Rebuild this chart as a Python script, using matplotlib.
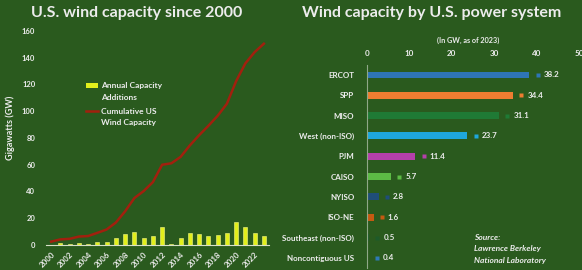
import matplotlib
matplotlib.use("Agg")
import matplotlib.pyplot as plt
from matplotlib.patches import Rectangle
from matplotlib.lines import Line2D

years = list(range(2000, 2024))
annual_additions = [0.1, 1.7, 0.4, 1.7, 0.4, 2.4, 2.5, 5.2, 8.4, 10.0, 5.2, 6.8, 13.1, 1.1,
                    4.9, 8.6, 8.2, 7.0, 7.6, 9.1, 16.9, 13.4, 8.6, 6.5]
cumulative = [2.5, 4.2, 4.6, 6.3, 6.7, 9.1, 11.6, 16.8, 25.2, 35.1, 40.3, 47.0, 60.0, 61.1,
              65.9, 74.5, 82.1, 89.1, 96.6, 105.6, 122.5, 135.8, 144.2, 150.5]
xtick_years = list(range(2000, 2023, 2))

systems = ["ERCOT", "SPP", "MISO", "West (non-ISO)", "PJM", "CAISO", "NYISO", "ISO-NE",
           "Southeast (non-ISO)", "Noncontiguous US"]
system_gw = [38.2, 34.4, 31.1, 23.7, 11.4, 5.7, 2.8, 1.6, 0.5, 0.4]
system_colors = ["#2e75b6", "#ed7d31", "#1f7a35", "#1ea7dc", "#b440aa", "#5cbb45",
                 "#1f4e79", "#c55a11", "#1e5a2a", "#2e7ab6"]

BG = "#2a5a1e"
TXT = "#ececec"
FONT = ["Lato", "DejaVu Sans"]
plt.rcParams['font.family'] = FONT

fig = plt.figure(figsize=(5.82, 2.70), dpi=100)
fig.patch.set_facecolor(BG)

# ---------- Left chart ----------
W, H = 582, 270
axL = fig.add_axes([46.5 / W, 25 / H, (268.5 - 46.5) / W, 214 / H])
axL.set_facecolor(BG)
x = list(range(len(years)))
axL.bar(x, annual_additions, width=0.42, color="#e2ef1c", edgecolor="#f4f98a", linewidth=0.4, zorder=2)
axL.plot(x, cumulative, color="#a2200e", lw=1.8, zorder=3)
axL.set_xlim(-0.5, len(years) - 0.5)
axL.set_ylim(0, 160)
axL.set_yticks(range(0, 161, 20))
axL.set_yticklabels([str(v) for v in range(0, 161, 20)], fontsize=5.5, color=TXT, fontweight="bold")
axL.set_xticks([years.index(y) for y in xtick_years])
axL.set_xticklabels([str(y) for y in xtick_years], rotation=45, ha="right", va="top",
                    rotation_mode="anchor", fontsize=5.7, color=TXT, fontweight="bold")
axL.tick_params(axis="both", length=0, pad=8)
axL.tick_params(axis="x", pad=4)
for s in ["top", "right", "left"]:
    axL.spines[s].set_visible(False)
axL.spines["bottom"].set_color("#d8e0c8")
axL.spines["bottom"].set_linewidth(0.8)
fig.text(10 / W, 1 - 128 / H, "Gigawatts (GW)", rotation=90, ha="center", va="center",
         fontsize=6.5, color=TXT, fontweight="bold")

# legend
fig.patches.append(Rectangle((86 / W, 1 - 88 / H), 12 / W, 5 / H, transform=fig.transFigure,
                             facecolor="#e2ef1c", edgecolor="none"))
fig.text(101 / W, 1 - 85.5 / H, "Annual Capacity", fontsize=6, color=TXT, fontweight="bold", va="center")
fig.text(101 / W, 1 - 97 / H, "Additions", fontsize=6, color=TXT, fontweight="bold", va="center")
fig.add_artist(Line2D([86 / W, 98 / W], [1 - 111 / H, 1 - 111 / H], transform=fig.transFigure,
                      color="#a2200e", lw=1.8))
fig.text(101 / W, 1 - 111 / H, "Cumulative US", fontsize=6, color=TXT, fontweight="bold", va="center")
fig.text(101 / W, 1 - 123 / H, "Wind Capacity", fontsize=6, color=TXT, fontweight="bold", va="center")

fig.text(137 / W, 1 - 13 / H, "U.S. wind capacity since 2000", ha="center", va="center",
         fontsize=11.5, color=TXT, fontweight="bold")

# ---------- Right chart ----------
axR = fig.add_axes([366.7 / W, 1.9 / H, 212.5 / W, 203.3 / H])
axR.set_facecolor(BG)
yy = list(range(len(systems)))
axR.barh(yy, system_gw, height=0.34, color=system_colors, zorder=2)
for i, (v, c) in enumerate(zip(system_gw, system_colors)):
    axR.plot(v + 2.0, i, marker="s", ms=3.2, color=c, mec="none", zorder=3)
    axR.text(v + 3.4, i, f"{v}", va="center", ha="left", fontsize=5.8, color=TXT, fontweight="bold")
axR.set_xlim(0, 50)
axR.set_ylim(len(systems) - 0.5, -0.5)
axR.xaxis.tick_top()
axR.set_xticks(range(0, 51, 10))
axR.set_xticklabels([str(v) for v in range(0, 51, 10)], fontsize=5.8, color=TXT, fontweight="bold")
axR.set_yticks(yy)
axR.set_yticklabels(systems, fontsize=5.8, color=TXT, fontweight="bold")
axR.tick_params(axis="both", length=0)
axR.tick_params(axis="y", pad=9)
axR.tick_params(axis="x", pad=5.5)
for s in ["top", "right", "bottom"]:
    axR.spines[s].set_visible(False)
axR.spines["left"].set_color("#8fa888")
axR.spines["left"].set_linewidth(0.8)

fig.text(432 / W, 1 - 13 / H, "Wind capacity by U.S. power system", ha="center", va="center",
         fontsize=11.5, color=TXT, fontweight="bold")
fig.text(468 / W, 1 - 40 / H, "(In GW, as of 2023)", ha="center", va="center",
         fontsize=5.2, color=TXT, fontweight="bold")
for txt, yp in [("Source:", 237), ("Lawrence Berkeley", 248.5), ("National Laboratory", 260)]:
    fig.text(474 / W, 1 - yp / H, txt, ha="left", va="center", fontsize=6, color=TXT,
             fontweight="bold", style="italic")

fig.savefig("out.png", dpi=100, facecolor=BG)
